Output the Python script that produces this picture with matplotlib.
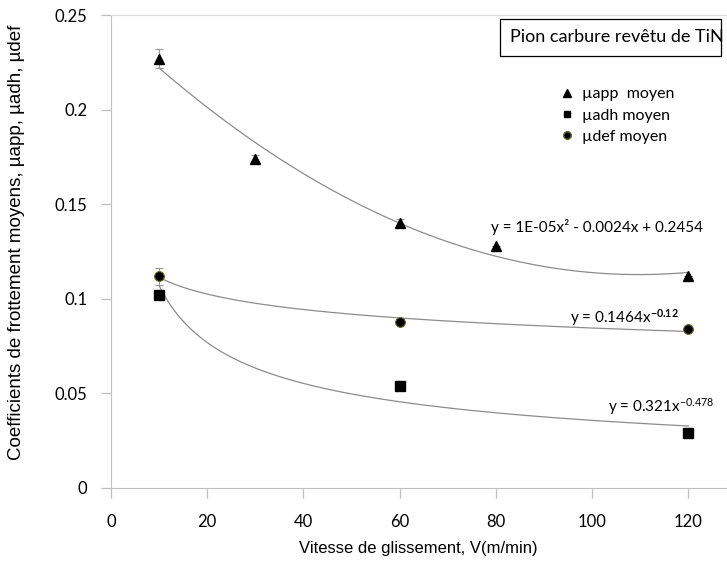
import matplotlib.pyplot as plt
import matplotlib.patches as mpatches
from matplotlib.lines import Line2D
import numpy as np

plt.rcParams["mathtext.fontset"] = "custom"
plt.rcParams["mathtext.rm"] = "Lato"
plt.rcParams["mathtext.bf"] = "Lato:bold"
plt.rcParams["mathtext.it"] = "Lato:italic"

# vitesse de glissement (m/min)
v_app = [10, 30, 60, 80, 120]
mu_app = [0.227, 0.174, 0.140, 0.128, 0.112]
err_app = [0.005, 0.002, 0.002, 0.0, 0.0]

v_adh = [10, 60, 120]
mu_adh = [0.102, 0.054, 0.029]

v_def = [10, 60, 120]
mu_def = [0.112, 0.088, 0.084]
err_def = [0.0045, 0.0, 0.0]

eq_app = "y = 1E-05x² - 0.0024x + 0.2454"
eq_def = "y = 0.1464x$^{\\mathbf{-0.12}}$"
eq_adh = "y = 0.321x$^{\\mathrm{-0.478}}$"

yticks = [0, 0.05, 0.1, 0.15, 0.2, 0.25]
ylabels = ["0", "0.05", "0.1", "0.15", "0.2", "0.25"]
xticks = [0, 20, 40, 60, 80, 100, 120]

W, H = 727, 564
fig = plt.figure(figsize=(W / 100, H / 100), dpi=100)
ax = fig.add_axes([111 / W, (H - 488) / H, 130 * 4.81 / W, 473 / H])

font = "Lato"
gray = "#bfbfbf"

# courbes de tendance (comme Excel)
xs = np.linspace(10, 120, 200)
c = np.polyfit(v_app, mu_app, 2)
ax.plot(xs, np.polyval(c, xs), color="#8c8c8c", lw=0.9)
for vv, mm in [(v_adh, mu_adh), (v_def, mu_def)]:
    b, a = np.polyfit(np.log(vv), np.log(mm), 1)
    ax.plot(xs, np.exp(a) * xs ** b, color="#8c8c8c", lw=0.9)

ax.errorbar(v_app, mu_app, yerr=err_app, fmt="^", color="black", ms=7.5,
            ecolor="#999999", elinewidth=0.8, capsize=3, capthick=0.8)
ax.plot(v_adh, mu_adh, "s", color="black", ms=6.5)
ax.errorbar(v_def, mu_def, yerr=err_def, fmt="o", color="black", ms=7,
            mec="#6b6b2a", mew=0.8, ecolor="#999999", elinewidth=0.8,
            capsize=3, capthick=0.8)

ax.set_xlim(0, 130)
ax.set_ylim(0, 0.25)
ax.set_xticks(xticks)
ax.set_yticks(yticks)
ax.set_yticklabels(ylabels)
for lab in ax.get_xticklabels() + ax.get_yticklabels():
    lab.set_fontfamily(font)
    lab.set_fontsize(12)
ax.tick_params(axis="both", length=7, width=0.9, color=gray, pad=10)
ax.tick_params(axis="x", pad=12)
ax.spines["right"].set_visible(False)
ax.spines["top"].set_color("#d9d9d9")
ax.spines["left"].set_color(gray)
ax.spines["bottom"].set_color(gray)

fig.text(418 / W, 1 - 548 / H, "Vitesse de glissement, V(m/min)",
         family="Liberation Sans", fontsize=12, ha="center", va="center")
fig.text(17 / W, 1 - 242 / H, "Coefficients de frottement moyens, µapp, µadh, µdef",
         family="Liberation Sans", fontsize=13.5, rotation=90,
         ha="center", va="center")

tx = dict(family=font, fontsize=11, transform=fig.transFigure, va="center")
fig.text(491 / W, 1 - 227 / H, eq_app, **tx)
fig.text(570 / W, 1 - 318 / H, eq_def, **tx)
fig.text(608 / W, 1 - 407 / H, eq_adh, **tx)

# encadré titre
fig.patches.append(mpatches.Rectangle((500 / W, 1 - 56 / H), 221 / W, 37 / H,
                                      transform=fig.transFigure, fill=False,
                                      ec="black", lw=0.9))
fig.text(510 / W, 1 - 37 / H, "Pion carbure revêtu de TiN", family=font,
         fontsize=13, va="center")

handles = [Line2D([], [], ls="", marker="^", color="black", ms=5.5),
           Line2D([], [], ls="", marker="s", color="black", ms=5),
           Line2D([], [], ls="", marker="o", color="black", mec="#6b6b2a", ms=5.5)]
labels = ["µapp  moyen", "µadh moyen", "µdef moyen"]
fig.legend(handles, labels, loc="upper left", bbox_to_anchor=(553 / W, 1 - 79 / H),
           frameon=False, prop={"family": font, "size": 11.5},
           handlelength=0.8, handletextpad=0.5, labelspacing=0.45, borderpad=0)

fig.savefig("out.png", dpi=100)
